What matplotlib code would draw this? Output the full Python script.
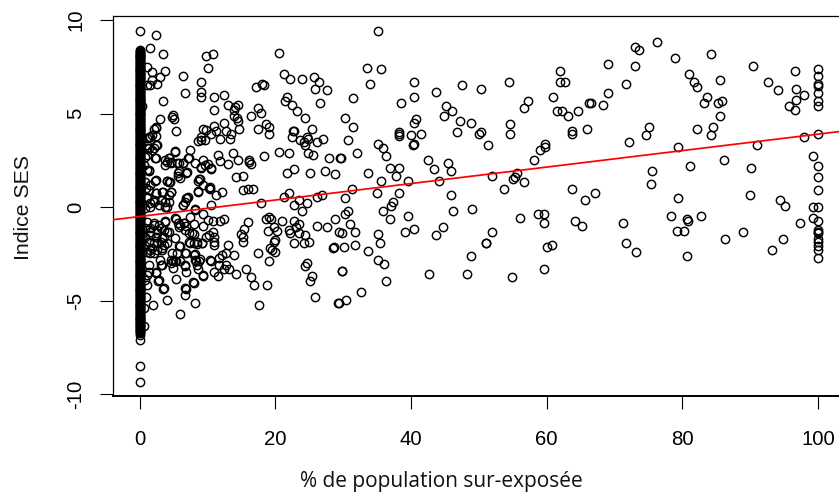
import matplotlib
matplotlib.use("Agg")
import matplotlib.pyplot as plt

W, H = 839, 496

# values at x = 0 (the solid column)
column_y = [9.43, 8.42, 8.36, 8.31, 8.26, 8.2, 8.15, 8.1, 8.05, 8.0, 7.95, 7.9, 7.85, 7.8, 7.75, 7.7, 7.65, 7.6, 7.55, 7.5,
 7.45, 7.4, 7.35, 7.3, 7.25, 7.2, 7.15, 7.1, 7.05, 7.0, 6.95, 6.9, 6.85, 6.8, 6.75, 6.7, 6.65, 6.6, 6.55, 6.5,
 6.45, 6.4, 6.35, 6.3, 6.25, 6.2, 6.15, 6.1, 6.05, 6.0, 5.95, 5.9, 5.85, 5.8, 5.75, 5.7, 5.65, 5.6, 5.55, 5.5,
 5.45, 5.4, 5.35, 5.3, 5.25, 5.2, 5.15, 5.1, 5.05, 5.0, 4.95, 4.9, 4.85, 4.8, 4.75, 4.7, 4.65, 4.6, 4.55, 4.5,
 4.45, 4.4, 4.35, 4.3, 4.25, 4.2, 4.15, 4.1, 4.05, 4.0, 3.95, 3.9, 3.85, 3.8, 3.75, 3.7, 3.65, 3.6, 3.55, 3.5,
 3.45, 3.4, 3.35, 3.3, 3.25, 3.2, 3.15, 3.1, 3.05, 3.0, 2.95, 2.9, 2.85, 2.8, 2.75, 2.7, 2.65, 2.6, 2.55, 2.5,
 2.45, 2.4, 2.35, 2.3, 2.25, 2.2, 2.15, 2.1, 2.05, 2.0, 1.95, 1.9, 1.85, 1.8, 1.75, 1.7, 1.65, 1.6, 1.55, 1.5,
 1.45, 1.4, 1.35, 1.3, 1.25, 1.2, 1.15, 1.1, 1.05, 1.0, 0.95, 0.9, 0.85, 0.8, 0.75, 0.7, 0.65, 0.6, 0.55, 0.5,
 0.45, 0.4, 0.35, 0.3, 0.25, 0.2, 0.15, 0.1, 0.05, 0.0, -0.05, -0.1, -0.15, -0.2, -0.25, -0.3, -0.35, -0.4, -0.45, -0.5,
 -0.55, -0.6, -0.65, -0.7, -0.75, -0.8, -0.85, -0.9, -0.95, -1.0, -1.05, -1.1, -1.15, -1.2, -1.25, -1.3, -1.35, -1.4, -1.45, -1.5,
 -1.55, -1.6, -1.65, -1.7, -1.75, -1.8, -1.85, -1.9, -1.95, -2.0, -2.05, -2.1, -2.15, -2.2, -2.25, -2.3, -2.35, -2.4, -2.45, -2.5,
 -2.55, -2.6, -2.65, -2.7, -2.75, -2.8, -2.85, -2.9, -2.95, -3.0, -3.05, -3.1, -3.15, -3.2, -3.25, -3.3, -3.35, -3.4, -3.45, -3.5,
 -3.55, -3.6, -3.65, -3.7, -3.75, -3.8, -3.85, -3.9, -3.95, -4.0, -4.05, -4.1, -4.15, -4.2, -4.25, -4.3, -4.35, -4.4, -4.45, -4.5,
 -4.55, -4.6, -4.65, -4.7, -4.75, -4.8, -4.85, -4.9, -4.95, -5.0, -5.05, -5.1, -5.15, -5.2, -5.25, -5.3, -5.35, -5.4, -5.45, -5.5,
 -5.55, -5.6, -5.65, -5.7, -5.75, -5.8, -5.85, -5.9, -5.95, -6.0, -6.05, -6.1, -6.15, -6.2, -6.25, -6.3, -6.35, -6.4, -6.45, -6.5,
 -6.55, -6.6, -6.65, -6.72, -6.85, -7.1, -8.48, -9.35]

# (% exposed, SES index) pairs, read region by region
low_x_pairs = [(2.5,9.18),(1.5,8.48),(3.5,8.16),(1.08,7.47),(1.87,7.2),(3.78,7.29),(3.04,6.94),(1.82,6.77),(1.62,6.5),(2.6,6.58),(1.13,6.5),
 (3.49,5.65),(0.4,5.4),(4.96,4.94),(4.8,4.84),(5.06,4.69),(3.04,4.69),(6.43,7.02),(6.68,6.08),(2.36,4.27),(2.1,4.16),(2.36,3.82),(1.6,3.77),(1.1,3.68),
 (5.45,4.09),(2.5,3.32),(2.1,3.14),(1.1,3.14),(5.25,2.97),(7.41,3.05),(2.3,2.63),(1.13,2.79),(7.17,2.63),(4.3,2.63),(3.83,2.52),(4.57,2.43),(3.73,2.25),
 (5.8,2.34),(6.43,2.38),(5.8,1.93),(6.92,1.84),(5.74,1.68),(1.13,1.99),(1.42,1.92),(2.3,1.42),(3.98,1.42),(4.47,1.33),(6.9,0.47),(7.2,0.53),(6.43,0.12),
 (2.5,0.74),(3.5,0.83),(4.7,0.81),(4.3,0.65),(3.1,0.38),(2.1,0.3),(3.83,0.3),(1.62,0.03),(3.98,0.03),(1.1,0.56),(0.9,1.0),(6.43,0.13),
 (5.45,-0.65),(5.7,-0.83),(6.0,-0.95),(6.5,-0.86),(6.9,-0.99),(7.41,-0.5),(7.5,-1.9),(7.3,-1.4),(6.0,-2.1),(6.9,-2.43),(5.94,-2.87),(5.45,-2.87),(4.96,-2.87),
 (4.66,-3.0),(4.96,-3.27),(3.3,-3.09),(3.0,-2.82),(6.73,-3.12),(6.92,-3.48),(5.45,-3.83),(7.9,-4.01),(6.92,-4.35),(6.68,-4.71),(2.8,-3.92),(3.49,-4.35),
 (3.98,-4.96),(2.0,-5.22),(5.94,-5.72),(1.13,-3.62),(2.36,-3.53),(1.4,-3.45),(1.13,-4.15),(0.9,-4.78),(0.64,-5.4),(0.64,-6.33),
 (2.1,-0.86),(2.85,-0.95),(3.83,-0.72),(1.62,-1.13),(2.6,-1.2),(3.58,-1.2),(4.3,-1.34),(1.62,-1.49),(2.36,-1.57),(3.3,-1.66),(1.37,-1.84),(2.6,-1.93),(3.6,-2.02),
 (1.87,-2.2),(2.6,-2.29),(3.3,-2.29),(4.8,-2.46),(5.55,-2.46),(1.6,-2.46)]

dense_upper_pairs = [(2.36,4.21),(1.87,3.86),(1.37,3.77),(1.13,3.32),(2.6,3.32),(1.47,3.14),(2.36,2.65),(5.3,3.0),(4.4,2.65),(4.07,2.43),(4.66,2.34),(5.55,2.34),(6.38,2.34),
 (7.27,2.61),(9.0,2.16),(9.7,2.25),(10.5,2.07),(7.0,1.9),(5.7,1.81),(5.9,1.54),(1.37,1.99),(2.36,1.45),(4.07,1.4),(4.3,1.33),(8.74,1.49),(10.2,1.0),(8.64,0.87),
 (0.88,1.36),(1.62,1.18),(1.37,0.92),(2.5,0.78),(3.34,0.83),(4.57,0.83),(7.0,0.47),(6.7,0.3),(1.13,0.47),(2.1,0.38),(3.34,0.38),(4.3,0.3),(1.62,0.2),(2.85,0.12),(3.83,0.03),
 (0.88,2.7),(0.64,2.25),(1.87,3.05),(0.88,-0.06)]

dense_lower_pairs = [(1.13,-0.77),(2.1,-0.95),(3.1,-1.13),(4.07,-1.31),(1.62,-1.31),(2.6,-1.4),(3.58,-1.57),(1.37,-1.84),(2.1,-1.93),(3.1,-1.84),(4.07,-1.93),(1.62,-2.29),(3.34,-2.2),
 (1.13,-2.37),(2.1,-2.46),(0.88,-1.13),(0.88,-1.57),(0.88,-2.1),(5.3,-0.6),(6.53,-0.86),(5.8,-1.04),(6.77,-1.22),(7.76,-1.39),(8.5,-1.84),(7.27,-1.84),(8.0,-1.93),(9.23,-1.93),
 (3.83,-0.77),(5.3,-1.66),(5.8,-2.1),(6.77,-2.46),(8.0,-2.55),(4.57,-2.82),(5.3,-2.9),(3.1,-3.1),(2.36,-3.44),(1.37,-3.09),(0.88,-3.9),(2.85,-3.9),(3.58,-4.33),(8.0,-4.07),
 (6.77,-4.33),(9.33,-3.62),(8.25,-2.82),(8.74,-2.9),(8.5,-3.09),(10.46,-2.82),(6.68,-3.09)]

mid_x_pairs = [(9.87,8.07),(10.8,8.16),(20.6,8.23),(10.06,7.45),(9.13,6.69),(9.13,6.17),(9.13,5.9),(11.05,5.9),(12.5,5.99),(17.1,6.42),(18.1,6.6),(18.4,6.5),
 (21.26,7.11),(22.2,6.85),(24.0,6.85),(25.7,6.94),(26.4,6.69),(25.9,6.33),(27.6,6.26),(26.6,5.56),(21.8,5.9),(21.5,5.65),(22.5,5.48),(23.2,5.12),(24.4,4.78),
 (11.05,5.21),(13.0,5.48),(14.5,5.48),(14.1,5.37),(14.0,5.19),(17.4,5.3),(17.9,5.03),(16.4,4.87),(14.0,4.87),(14.3,4.78),(14.5,4.6),(12.5,4.51),(11.05,4.34),
 (14.7,4.18),(18.6,4.42),(19.1,4.3),(17.4,4.18),(19.1,3.91),(22.6,4.09),(22.7,4.09),(22.5,3.75),(25.4,4.18),(9.33,4.18),(9.87,4.12),(11.3,4.09),(12.7,4.09),
 (10.6,3.91),(11.8,3.66),(13.3,3.66),(13.5,3.91),(9.08,3.75),(9.6,3.57),(8.64,3.53),(9.0,3.57),(23.7,3.57),(24.3,3.48),(24.7,3.75),(24.9,3.66),(24.4,3.32),
 (26.2,3.48),(27.1,3.66),(11.5,2.81),(13.75,2.88),(18.3,2.72),(20.6,2.97),(22.0,2.88),(24.9,2.88),(25.5,2.81),(27.9,2.63),(29.6,2.63),(8.15,2.38),(9.38,2.54),
 (10.06,2.32),(9.13,2.11),(10.6,2.02),(11.8,2.47),(13.0,2.29),(14.5,2.54),(16.2,2.54),(16.2,2.43),(16.4,2.29),(21.75,1.84),(22.7,2.02),(25.2,1.84),(27.4,1.93),
 (28.8,1.77),(14.2,1.6),(15.2,1.68),(8.9,1.51),(8.64,1.42),(9.33,1.17),(10.36,1.06),(10.36,0.99),(8.64,0.81),(12.1,0.81),(11.3,0.65),(15.2,0.9),(16.0,0.99),
 (16.74,0.99),(22.0,0.74),(21.3,0.56),(26.2,0.56),(26.9,0.65),(22.7,0.12),(24.7,0.21),(23.5,0.38),(17.9,0.24),(10.55,0.12),(8.25,-0.15),
 (8.25,-0.1),(9.38,-0.38),(10.06,-0.68),(10.8,-0.74),(11.8,-0.72),(12.5,-0.65),(8.1,-0.9),(9.38,-0.99),(15.95,-0.81),(15.46,-1.16),(15.0,-1.41),(15.2,-1.59),
 (15.2,-1.86),(18.6,-0.63),(19.1,-0.5),(19.4,-0.65),(21.0,-0.72),(22.7,-0.72),(23.5,-0.9),(23.0,-1.07),(22.0,-1.22),(22.2,-1.4),(19.8,-1.04),(20.3,-1.25),(19.0,-1.25),
 (23.5,-1.4),(24.4,-1.49),(24.0,-0.2),(26.2,-0.99),(27.6,-1.07),(28.8,-0.65),(29.4,-1.32),(22.7,-1.91),(24.3,-1.93),(25.0,-1.84),(28.6,-2.11),(28.5,-2.2),
 (20.0,-1.75),(19.8,-1.84),(19.3,-2.2),(19.5,-2.29),(19.9,-2.37),(17.4,-2.43),(19.1,-2.87),(24.7,-2.96),(24.4,-3.14),(25.4,-3.67),(25.2,-3.92),(29.8,-3.39),
 (25.9,-4.78),(29.3,-5.13),(15.7,-3.3),(16.45,-3.75),(16.84,-4.17),(18.85,-4.17),(17.6,-5.22),(13.0,-2.0),(11.05,-1.57),(11.05,-1.84),(11.05,-2.02),(10.8,-1.3),
 (10.2,-1.5),(8.5,-1.97),(9.2,-1.9),(8.1,-1.43),(9.87,-1.57),(8.15,-2.52),(12.8,-2.43),(14.0,-2.55),(12.2,-2.55),(11.7,-2.73),(10.6,-2.87),(8.9,-2.78),(8.4,-2.9),
 (8.64,-3.32),(12.7,-3.09),(11.7,-3.09),(13.15,-3.3),(12.5,-3.3),(14.2,-3.57),(11.05,-3.48),(11.5,-3.66),(9.38,-3.66),(8.15,-5.13)]

high_x_pairs = [(35.15,9.43),(33.48,7.45),(35.64,7.36),(33.97,6.6),(40.5,6.69),(31.5,5.81),(40.5,5.9),(43.7,6.17),(47.6,6.51),(50.3,6.33),(54.4,6.69),(57.3,5.65),
 (56.6,5.3),(61.0,5.9),(61.96,7.29),(61.96,6.69),(62.7,6.69),(61.5,5.12),(62.2,5.12),(63.2,4.87),(64.6,5.12),(66.2,5.56),(38.5,5.56),(45.2,5.39),(46.1,5.12),(44.9,4.87),
 (47.3,4.6),(48.8,4.51),(46.8,4.0),(50.0,3.91),(50.4,4.0),(54.6,4.42),(54.6,3.91),(63.7,4.09),(63.7,3.93),(66.0,4.18),(30.3,4.78),(31.5,4.27),(30.8,3.57),(40.8,4.69),
 (40.5,4.51),(38.3,4.0),(38.2,3.91),(38.3,3.8),(40.0,3.84),(41.5,3.91),(35.2,3.39),(35.9,3.14),(36.4,2.72),(40.5,3.39),(40.3,3.3),(32.0,2.88),(29.75,2.63),(36.9,2.11),
 (38.3,2.11),(42.5,2.54),(43.4,2.02),(45.4,2.36),(45.9,1.93),(51.3,3.32),(59.8,3.39),(59.8,3.23),(59.1,3.05),(58.1,2.54),(33.7,1.84),(37.85,1.68),(35.6,1.42),(39.6,1.42),
 (44.2,1.42),(51.9,1.68),(55.6,1.84),(55.4,1.6),(55.0,1.51),(56.6,1.33),(31.3,0.99),(35.0,0.74),(38.3,0.74),(30.3,0.47),(53.7,0.99),(63.7,0.99),(45.9,0.65),(65.6,0.38),
 (37.4,0.3),(37.1,0.05),(35.9,-0.2),(30.8,-0.2),(30.3,-0.38),(39.6,-0.47),(36.9,-0.65),(46.2,-0.2),(49.0,-0.11),(56.1,-0.56),(58.8,-0.38),(59.6,-0.38),(59.6,-0.83),
 (64.2,-0.74),(65.2,-0.99),(31.0,-0.9),(31.8,-1.32),(29.85,-1.4),(35.2,-1.41),(39.1,-1.32),(40.5,-1.16),(44.7,-1.07),(43.7,-1.5),(51.9,-1.32),(51.1,-1.93),(51.0,-1.93),
 (35.4,-1.93),(31.8,-2.02),(30.1,-2.11),(33.7,-2.36),(35.2,-2.8),(36.1,-3.05),(48.8,-2.62),(60.1,-2.11),(60.8,-2.02),(59.6,-3.32),(29.9,-3.4),(42.7,-3.57),(48.3,-3.57),
 (54.9,-3.75),(36.4,-3.92),(32.7,-4.53),(30.5,-4.96),(29.45,-5.1),
 (73.1,8.57),(73.6,8.4),(76.3,8.83),(69.0,7.63),(73.0,7.54),(79.0,7.98),(84.3,8.16),(90.4,7.54),(96.6,7.29),(80.95,7.11),(81.7,6.69),(82.1,6.42),(85.6,6.77),(71.7,6.6),
 (69.0,6.08),(66.5,5.56),(68.3,5.48),(83.6,5.9),(83.2,5.56),(85.3,5.56),(85.9,5.65),(85.6,4.87),(92.6,6.69),(94.1,6.26),(96.8,6.33),(98.0,5.99),(96.8,5.74),(95.7,5.39),
 (96.6,5.21),(75.1,4.27),(74.7,3.84),(72.2,3.48),(82.2,4.18),(84.6,4.27),(84.3,3.84),(79.3,3.23),(91.0,3.32),(98.0,3.75),(86.1,2.54),(81.2,2.2),(75.6,1.93),(75.4,1.26),
 (90.2,2.11),(99.3,2.72),(67.1,0.74),(79.3,0.47),(90.0,0.65),(94.4,0.38),(95.1,0.06),(99.3,0.0),(99.3,-0.56),(97.3,-0.83),(71.2,-0.83),(71.7,-1.93),(73.2,-2.37),
 (78.3,-0.47),(80.7,-0.65),(80.9,-0.76),(82.7,-0.47),(79.2,-1.25),(80.3,-1.25),(80.7,-2.62),(86.3,-1.68),(89.0,-1.32),(94.8,-1.68),(93.2,-2.29)]

# values at x = 100
full_x_y = [7.36, 7.02, 6.6, 6.47, 6.08, 5.65, 5.39, 3.91, 2.2, 1.6, 0.9, 0.0, -0.74, -1.2, -1.3, -1.4, -1.7, -1.84, -2.1, -2.29, -2.7]

# fitted line
intercept = -0.5
slope = 0.044

x_ticks = [0, 20, 40, 60, 80, 100]
y_ticks = [-10, -5, 0, 5, 10]
x_label = "% de population sur-exposée"
y_label = "Indice SES"

plt.rcParams['font.family'] = ['Liberation Sans', 'DejaVu Sans']
fig = plt.figure(figsize=(W / 100, H / 100), dpi=100)
ax = fig.add_axes([112.5 / W, 1 - 395.7 / H, (W - 112.5) / W, (395.7 - 16) / H])
ax.set_xlim(-3.98, 103.1)
ax.set_ylim(-10.07, 10.21)

pairs = low_x_pairs + dense_upper_pairs + dense_lower_pairs + mid_x_pairs + high_x_pairs
xs = [0.0] * len(column_y) + [p[0] for p in pairs] + [100.0] * len(full_x_y)
ys = column_y + [p[1] for p in pairs] + full_x_y
ax.plot(xs, ys, linestyle='none', marker='o', mfc='none', mec='black', ms=6.0, mew=1.05, zorder=2)

lx = list(ax.get_xlim())
ax.plot(lx, [intercept + slope * v for v in lx], color='#ff0000', lw=1.25, zorder=3)
ax.set_xlim(-3.98, 103.1)

ax.spines['right'].set_visible(False)
ax.spines['top'].set_linewidth(0.9)
ax.spines['left'].set_linewidth(0.9)
ax.spines['bottom'].set_linewidth(1.4)
ax.set_xticks(x_ticks)
ax.set_yticks(y_ticks)
ax.set_xticklabels([str(v) for v in x_ticks])
ax.set_yticklabels([str(v) for v in y_ticks], rotation=90, va='center')
ax.tick_params(axis='both', length=9.4, width=0.8, labelsize=14.7, color='black')
ax.tick_params(axis='x', pad=15)
ax.tick_params(axis='y', pad=10)

fig.text(441 / W, 1 - 482 / H, x_label, ha='center', va='center', fontsize=15, family='Open Sans', color='#111111')
fig.text(23.5 / W, 1 - 207.5 / H, y_label, ha='center', va='center', rotation=90, fontsize=15.3, color='#111111')

fig.savefig('out.png', dpi=100)
